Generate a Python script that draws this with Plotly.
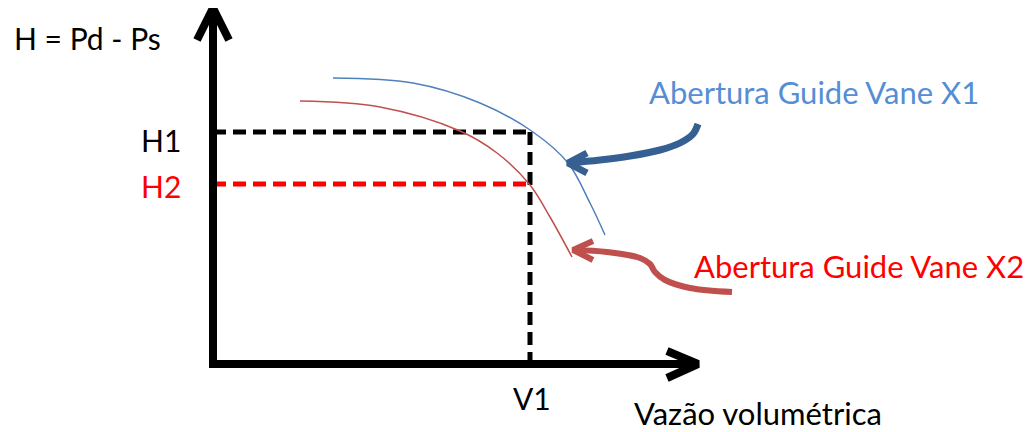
import plotly.graph_objects as go

# diagram units: origin at the corner of the axes, V to the right, H upwards
# performance curve for guide vane opening X1
curve_x1_v = [120, 200, 267, 320, 355, 377, 392]
curve_x1_h = [286, 281, 261, 232, 201, 161, 129]

# performance curve for guide vane opening X2
curve_x2_v = [87, 167, 247, 284, 317, 337, 359]
curve_x2_h = [263, 257, 233, 211, 179, 147, 107]

# operating point
V1 = 317
H1 = 232
H2 = 180

# axes (shaft + chevron head)
y_axis_v = [0, 0]
y_axis_h = [-4, 352]
y_head_v = [-16, 0, 16]
y_head_h = [324, 356, 324]
x_axis_v = [-4, 482]
x_axis_h = [0, 0]
x_head_v = [454, 485, 454]
x_head_h = [13, 0, -14]

# callout arrows
arrow1_v = [485, 480, 467, 447, 417, 387, 355]
arrow1_h = [240, 230, 221, 214, 208, 204, 201]
arrow1_head_v = [374, 355, 374]
arrow1_head_h = [211, 201, 191]
arrow2_v = [519, 477, 452, 442, 437, 427, 394, 360]
arrow2_h = [72, 76, 84, 92, 100, 106, 112, 114]
arrow2_head_v = [380, 360, 380]
arrow2_head_h = [123, 114, 104]

BLUE_CURVE = '#4f81bd'
RED_CURVE = '#c0504d'
BLUE_TEXT = '#558ed5'
BLUE_ARROW = '#376092'
RED = '#ff0000'
FONT = 'Lato, Calibri, sans-serif'

fig = go.Figure()


def line(x, y, color, width, dash=None, shape='linear'):
    fig.add_trace(go.Scatter(
        x=x, y=y, mode='lines',
        line=dict(color=color, width=width, dash=dash, shape=shape),
        hoverinfo='skip', showlegend=False,
    ))


# dashed guides
line([0, V1], [H1, H1], 'black', 5, dash='13px,7px')
line([V1, V1], [H1, 0], 'black', 5, dash='13px,7px')
line([0, V1], [H2, H2], RED, 5, dash='13px,7px')

# curves
line(curve_x1_v, curve_x1_h, BLUE_CURVE, 1.5, shape='spline')
line(curve_x2_v, curve_x2_h, RED_CURVE, 1.5, shape='spline')

# axes
line(y_axis_v, y_axis_h, 'black', 8)
line(y_head_v, y_head_h, 'black', 8)
line(x_axis_v, x_axis_h, 'black', 8)
line(x_head_v, x_head_h, 'black', 8)

# callout arrows
line(arrow1_v, arrow1_h, BLUE_ARROW, 7, shape='spline')
line(arrow1_head_v, arrow1_head_h, BLUE_ARROW, 7)
line(arrow2_v, arrow2_h, RED_CURVE, 6, shape='spline')
line(arrow2_head_v, arrow2_head_h, RED_CURVE, 6)

labels = [
    dict(x=-201, y=326, text='H = Pd - Ps', color='black', size=30, xanchor='left'),
    dict(x=-30, y=224, text='H1', color='black', size=30, xanchor='right'),
    dict(x=-30, y=178, text='H2', color=RED, size=30, xanchor='right'),
    dict(x=319, y=-34, text='V1', color='black', size=30, xanchor='center'),
    dict(x=419, y=-49, text='Vazão volumétrica', color='black', size=31, xanchor='left'),
    dict(x=434, y=272, text='Abertura Guide Vane X1', color=BLUE_TEXT, size=31, xanchor='left'),
    dict(x=479, y=98, text='Abertura Guide Vane X2', color=RED, size=31, xanchor='left'),
]
for lb in labels:
    fig.add_annotation(
        x=lb['x'], y=lb['y'], text=lb['text'], showarrow=False,
        xanchor=lb['xanchor'], yanchor='middle',
        font=dict(family=FONT, size=lb['size'], color=lb['color']),
    )

# page body has an 8px margin, so the figure is 8px smaller and the ranges start there
fig.update_layout(
    width=1025, height=424,
    margin=dict(l=0, r=0, t=0, b=0),
    plot_bgcolor='white', paper_bgcolor='white',
    xaxis=dict(range=[-205, 820], visible=False, fixedrange=True),
    yaxis=dict(range=[-68, 356], visible=False, fixedrange=True),
)

fig.write_html("out.html")
